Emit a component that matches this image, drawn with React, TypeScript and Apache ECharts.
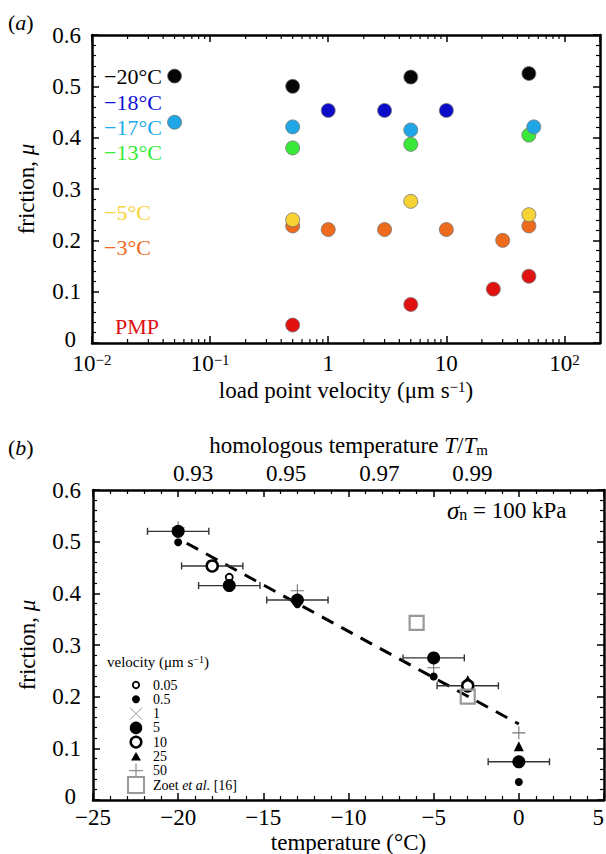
import React, { useEffect, useRef } from 'react';
import * as echarts from 'echarts';

const FONT = "'Liberation Serif', 'Times New Roman', Times, serif";

// ---------- Panel (a): friction vs load point velocity ----------
const velM20 = [0.05, 0.5, 5, 50];
const fricM20 = [0.52, 0.5, 0.518, 0.525];
const velM18 = [1, 3, 10];
const fricM18 = [0.453, 0.453, 0.453];
const velM17 = [0.05, 0.5, 5, 55];
const fricM17 = [0.43, 0.421, 0.415, 0.421];
const velM13 = [0.5, 5, 50];
const fricM13 = [0.38, 0.387, 0.405];
const velM5 = [0.5, 5, 50];
const fricM5 = [0.24, 0.276, 0.25];
const velM3 = [0.5, 1, 3, 10, 30, 50];
const fricM3 = [0.228, 0.221, 0.221, 0.221, 0.2, 0.228];
const velPMP = [0.5, 5, 25, 50];
const fricPMP = [0.035, 0.075, 0.105, 0.13];
const labelsA = ['−20°C', '−18°C', '−17°C', '−13°C', '−5°C', '−3°C', 'PMP'];
const logMinorTicks = [0.02, 0.03, 0.04, 0.05, 0.06, 0.07, 0.08, 0.09, 0.2, 0.3, 0.4, 0.5, 0.6, 0.7, 0.8, 0.9, 2, 3, 4, 5, 6, 7, 8, 9, 20, 30, 40, 50, 60, 70, 80, 90];

// ---------- Panel (b): friction vs temperature ----------
const tempV005 = [-20, -17];
const fricV005 = [0.519, 0.431];
const tempV05 = [-20, -17, -13, -5, -3, 0];
const fricV05 = [0.499, 0.421, 0.379, 0.239, 0.228, 0.035];
const tempV1 = [-18, -3];
const fricV1 = [0.455, 0.221];
const tempV5 = [-20, -17, -13, -5, 0];
const fricV5 = [0.52, 0.415, 0.387, 0.275, 0.074];
const tempV10 = [-18, -3];
const fricV10 = [0.453, 0.221];
const tempV25 = [-3, 0];
const fricV25 = [0.232, 0.104];
const tempV50 = [-20, -13, -5, -3, 0];
const fricV50 = [0.527, 0.405, 0.256, 0.228, 0.13];
const tempZoet = [-6, -3];
const fricZoet = [0.343, 0.2];
const errTemp = [-20, -18, -17, -13, -5, -3, 0];
const errFric = [0.52, 0.453, 0.415, 0.387, 0.275, 0.221, 0.074];
const errHalf = [1.8, 1.8, 1.8, 1.8, 1.8, 1.8, 1.8];
const fitTemp = [-19.5, 0];
const fitFric = [0.497, 0.147];
const homologousTicks = [0.93, 0.95, 0.97, 0.99];
const legendLabelsB = ['0.05', '0.5', '1', '5', '10', '25', '50', 'Zoet {i|et al.} [16]'];

const zip = (xs: number[], ys: number[]) => xs.map((x, i) => [x, ys[i]]);

const colorsA = ['#060606', '#0c0cc8', '#1ea6e6', '#3ae83a', '#f6d235', '#ee6b1e', '#e01212'];
const textColorsA = ['#000000', '#1010d8', '#22aaee', '#33ee33', '#f8d23a', '#f06820', '#e01010'];

const axisLine = { show: true, onZero: false, lineStyle: { color: '#000', width: 2.5 } };
const axisTick = { show: true, inside: true, length: 7, lineStyle: { color: '#000', width: 1.5 } };
const minorTick = { show: true, splitNumber: 5, length: 4, lineStyle: { color: '#000', width: 1.2 } };
const labelBase = { color: '#000', fontSize: 23, fontFamily: FONT };
const supRich = { sup: { fontSize: 15, fontFamily: FONT, color: '#000', verticalAlign: 'top' } };
const zeroRich = { z: { fontSize: 23, fontFamily: FONT, color: '#000', lineHeight: 18, padding: [0, 5, 8, 0] } };

const fmtMinus = (v: number) => (v < 0 ? '−' + Math.abs(v) : String(v));
const fmtY = (v: number) => (v === 0 ? '{z|0}' : v.toFixed(1));
const fmtLog = (v: number) => {
  const e = Math.round(Math.log10(v));
  if (e === 0) return '1';
  if (e === 1) return '10';
  return '10{sup|' + (e < 0 ? '−' : '') + Math.abs(e) + '}';
};

function buildOption() {
  const T0 = 273.15;
  const xMinB = -25;
  const xMaxB = 5;

  const scatterA = [
    { name: labelsA[6], v: velPMP, f: fricPMP, c: colorsA[6] },
    { name: labelsA[5], v: velM3, f: fricM3, c: colorsA[5] },
    { name: labelsA[4], v: velM5, f: fricM5, c: colorsA[4] },
    { name: labelsA[3], v: velM13, f: fricM13, c: colorsA[3] },
    { name: labelsA[2], v: velM17, f: fricM17, c: colorsA[2] },
    { name: labelsA[1], v: velM18, f: fricM18, c: colorsA[1] },
    { name: labelsA[0], v: velM20, f: fricM20, c: colorsA[0] },
  ].map((s) => ({
    type: 'scatter',
    name: s.name,
    xAxisIndex: 0,
    yAxisIndex: 0,
    data: zip(s.v, s.f),
    symbol: 'circle',
    symbolSize: 14,
    itemStyle: { color: s.c, borderColor: '#777', borderWidth: 0.8, opacity: 1 },
    z: 3,
  }));

  const plusPath =
    'path://M-0.6,-7L0.6,-7L0.6,-0.6L7,-0.6L7,0.6L0.6,0.6L0.6,7L-0.6,7L-0.6,0.6L-7,0.6L-7,-0.6L-0.6,-0.6Z';

  const bScatter = (name: string, t: number[], f: number[], extra: any) => ({
    type: 'scatter',
    name,
    xAxisIndex: 2,
    yAxisIndex: 2,
    data: zip(t, f),
    z: 4,
    ...extra,
    itemStyle: { opacity: 1, ...(extra.itemStyle || {}) },
  });

  const seriesB = [
    {
      type: 'line',
      name: 'fit',
      xAxisIndex: 2,
      yAxisIndex: 2,
      data: zip(fitTemp, fitFric),
      showSymbol: false,
      symbol: 'none',
      lineStyle: { color: '#000', width: 3, type: [13, 9] },
      z: 2,
    },
    {
      type: 'custom',
      name: 'error',
      xAxisIndex: 2,
      yAxisIndex: 2,
      data: errTemp.map((t, i) => [t, errFric[i], errHalf[i]]),
      encode: { x: 0, y: 1 },
      clip: false,
      z: 3,
      renderItem: (_p: any, api: any) => {
        const t = api.value(0);
        const f = api.value(1);
        const e = api.value(2);
        const a = api.coord([t - e, f]);
        const b = api.coord([t + e, f]);
        const st = { stroke: '#333', lineWidth: 1.4 };
        return {
          type: 'group',
          children: [
            { type: 'line', shape: { x1: a[0], y1: a[1], x2: b[0], y2: b[1] }, style: st },
            { type: 'line', shape: { x1: a[0], y1: a[1] - 3.5, x2: a[0], y2: a[1] + 3.5 }, style: st },
            { type: 'line', shape: { x1: b[0], y1: b[1] - 3.5, x2: b[0], y2: b[1] + 3.5 }, style: st },
          ],
        };
      },
    },
    bScatter('1', tempV1, fricV1, { symbol: plusPath, symbolRotate: 45, symbolSize: 12, itemStyle: { color: '#999' } }),
    bScatter('50', tempV50, fricV50, { symbol: plusPath, symbolSize: 13, itemStyle: { color: '#777' } }),
    bScatter('0.5', tempV05, fricV05, { symbol: 'circle', symbolSize: 8, itemStyle: { color: '#000' } }),
    bScatter('25', tempV25, fricV25, { symbol: 'triangle', symbolSize: 10, itemStyle: { color: '#000' } }),
    bScatter('10', tempV10, fricV10, {
      symbol: 'circle',
      symbolSize: 11,
      itemStyle: { color: '#fff', borderColor: '#000', borderWidth: 2.5 },
    }),
    bScatter('0.05', tempV005, fricV005, {
      symbol: 'circle',
      symbolSize: 7,
      itemStyle: { color: '#fff', borderColor: '#000', borderWidth: 1.8 },
    }),
    bScatter('5', tempV5, fricV5, { symbol: 'circle', symbolSize: 13, itemStyle: { color: '#000' } }),
    bScatter('Zoet et al. [16]', tempZoet, fricZoet, {
      symbol: 'rect',
      symbolSize: 14,
      itemStyle: { color: 'rgba(255,255,255,0)', borderColor: '#999', borderWidth: 2.2 },
    }),
  ];

  const minorLogSeries = {
    type: 'custom',
    name: 'minor',
    xAxisIndex: 0,
    yAxisIndex: 0,
    data: logMinorTicks.map((v) => [v, 0]),
    encode: { x: 0, y: 1 },
    clip: false,
    silent: true,
    z: 5,
    renderItem: (_p: any, api: any) => {
      const v = api.value(0);
      const b = api.coord([v, 0]);
      const t = api.coord([v, 0.6]);
      const st = { stroke: '#000', lineWidth: 1.2 };
      return {
        type: 'group',
        children: [
          { type: 'line', shape: { x1: b[0], y1: b[1], x2: b[0], y2: b[1] - 4 }, style: st },
          { type: 'line', shape: { x1: t[0], y1: t[1], x2: t[0], y2: t[1] + 4 }, style: st },
        ],
      };
    },
  };

  // graphic texts
  const labelYA = [76, 102, 127, 152, 212, 247, 326];
  const labelXA = [104, 104, 104, 104, 104, 104, 115];
  const graphic: any[] = labelsA.map((t, i) => ({
    type: 'text',
    x: labelXA[i],
    y: labelYA[i],
    z: 10,
    style: {
      text: t,
      fill: textColorsA[i],
      fontSize: 22,
      fontFamily: FONT,
      align: 'left',
      verticalAlign: 'middle',
    },
  }));

  const italicRich = (size: number) => ({
    i: { fontSize: size, fontFamily: FONT, fontStyle: 'italic', fill: '#000', color: '#000' },
  });

  graphic.push(
    {
      type: 'text',
      x: 8,
      y: 22,
      style: { text: '({i|a})', fontSize: 22, fontFamily: FONT, fill: '#000', verticalAlign: 'middle', rich: italicRich(22) },
    },
    {
      type: 'text',
      x: 8,
      y: 447,
      style: { text: '({i|b})', fontSize: 22, fontFamily: FONT, fill: '#000', verticalAlign: 'middle', rich: italicRich(22) },
    },
    {
      type: 'text',
      x: 447,
      y: 510,
      style: {
        text: '{s|σ}{sub|n} = 100 kPa',
        fontSize: 23,
        fontFamily: FONT,
        fill: '#000',
        verticalAlign: 'middle',
        rich: {
          s: { fontSize: 25, fontFamily: FONT, fontStyle: 'italic', fill: '#000' },
          sub: { fontSize: 16, fontFamily: FONT, fill: '#000', verticalAlign: 'bottom' },
        },
      },
    },
    {
      type: 'text',
      x: 107,
      y: 662,
      style: {
        text: 'velocity (μm s{sup|−1})',
        fontSize: 15,
        fontFamily: FONT,
        fill: '#000',
        verticalAlign: 'middle',
        rich: { sup: { fontSize: 10, fontFamily: FONT, fill: '#000', verticalAlign: 'top' } },
      },
    }
  );

  const legY = [685, 699.3, 713.6, 727.9, 742.1, 756.4, 770.7, 785];
  const mx = 136;
  legendLabelsB.forEach((t, i) => {
    graphic.push({
      type: 'text',
      x: 153,
      y: legY[i],
      style: {
        text: t,
        fontSize: 14,
        lineHeight: 13,
        fontFamily: FONT,
        fill: '#000',
        verticalAlign: 'middle',
        rich: { i: { fontSize: 14, lineHeight: 13, fontFamily: FONT, fontStyle: 'italic', fill: '#000' } },
      },
    });
  });
  graphic.push(
    { type: 'circle', shape: { cx: mx, cy: legY[0], r: 3.2 }, style: { fill: '#fff', stroke: '#000', lineWidth: 1.8 } },
    { type: 'circle', shape: { cx: mx, cy: legY[1], r: 4 }, style: { fill: '#000' } },
    { type: 'line', shape: { x1: mx - 6, y1: legY[2] - 6, x2: mx + 6, y2: legY[2] + 6 }, style: { stroke: '#999', lineWidth: 1 } },
    { type: 'line', shape: { x1: mx - 6, y1: legY[2] + 6, x2: mx + 6, y2: legY[2] - 6 }, style: { stroke: '#999', lineWidth: 1 } },
    { type: 'circle', shape: { cx: mx, cy: legY[3], r: 6.3 }, style: { fill: '#000' } },
    { type: 'circle', shape: { cx: mx, cy: legY[4], r: 5.3 }, style: { fill: '#fff', stroke: '#000', lineWidth: 2.5 } },
    {
      type: 'polygon',
      shape: { points: [[mx - 5, legY[5] + 4], [mx + 5, legY[5] + 4], [mx, legY[5] - 4.5]] },
      style: { fill: '#000' },
    },
    { type: 'line', shape: { x1: mx - 7, y1: legY[6], x2: mx + 7, y2: legY[6] }, style: { stroke: '#777', lineWidth: 1 } },
    { type: 'line', shape: { x1: mx, y1: legY[6] - 7, x2: mx, y2: legY[6] + 7 }, style: { stroke: '#777', lineWidth: 1 } },
    { type: 'rect', shape: { x: mx - 8, y: legY[7] - 8, width: 16, height: 16 }, style: { fill: 'none', stroke: '#999', lineWidth: 2 } }
  );

  return {
    animation: false,
    backgroundColor: '#fff',
    textStyle: { fontFamily: FONT },
    grid: [
      { left: 92, top: 35, width: 508, height: 308, containLabel: false, outerBoundsMode: 'none' },
      { left: 93, top: 490, width: 511, height: 310, containLabel: false, outerBoundsMode: 'none' },
    ],
    xAxis: [
      {
        gridIndex: 0,
        type: 'log',
        logBase: 10,
        min: 0.01,
        max: 200,
        position: 'bottom',
        axisLine,
        axisTick,
        splitLine: { show: false },
        axisLabel: { ...labelBase, margin: 9, showMaxLabel: false, formatter: fmtLog, rich: supRich },
        name: 'load point velocity (μm s{sup|−1})',
        nameLocation: 'middle',
        nameGap: 36,
        nameTextStyle: { ...labelBase, rich: supRich },
      },
      {
        gridIndex: 0,
        type: 'log',
        logBase: 10,
        min: 0.01,
        max: 200,
        position: 'top',
        axisLine,
        axisTick,
        splitLine: { show: false },
        axisLabel: { show: false },
      },
      {
        gridIndex: 1,
        type: 'value',
        min: xMinB,
        max: xMaxB,
        interval: 5,
        position: 'bottom',
        axisLine,
        axisTick,
        minorTick,
        splitLine: { show: false },
        axisLabel: { ...labelBase, margin: 7, lineHeight: 20, alignMaxLabel: 'right', formatter: fmtMinus },
        name: 'temperature (°C)',
        nameLocation: 'middle',
        nameGap: 31,
        nameTextStyle: { ...labelBase },
      },
      {
        gridIndex: 1,
        type: 'value',
        min: xMinB,
        max: xMaxB,
        interval: 5,
        position: 'top',
        axisLine,
        axisTick,
        minorTick,
        splitLine: { show: false },
        axisLabel: { show: false },
      },
      {
        gridIndex: 1,
        type: 'value',
        min: (xMinB + T0) / T0,
        max: (xMaxB + T0) / T0,
        position: 'top',
        axisLine: { show: false, onZero: false },
        axisTick: { show: false },
        splitLine: { show: false },
        axisLabel: {
          ...labelBase,
          margin: 5,
          customValues: homologousTicks,
          formatter: (v: number) => v.toFixed(2),
        },
        name: 'homologous temperature {i|T}/{i|T}{sub|m}',
        nameLocation: 'middle',
        nameGap: 33,
        nameTextStyle: {
          ...labelBase,
          rich: {
            i: { fontSize: 23, fontFamily: FONT, fontStyle: 'italic', color: '#000' },
            sub: { fontSize: 15, fontFamily: FONT, color: '#000', verticalAlign: 'bottom' },
          },
        },
      },
    ],
    yAxis: [
      {
        gridIndex: 0,
        type: 'value',
        min: 0,
        max: 0.6,
        interval: 0.1,
        position: 'left',
        axisLine,
        axisTick,
        minorTick,
        splitLine: { show: false },
        axisLabel: { ...labelBase, margin: 11, lineHeight: 18, formatter: fmtY, rich: zeroRich },
        name: 'friction, {i|μ}',
        nameLocation: 'middle',
        nameGap: 54,
        nameTextStyle: { ...labelBase, rich: { i: { fontSize: 23, fontFamily: FONT, fontStyle: 'italic', color: '#000' } } },
      },
      {
        gridIndex: 0,
        type: 'value',
        min: 0,
        max: 0.6,
        interval: 0.1,
        position: 'right',
        axisLine,
        axisTick,
        minorTick,
        splitLine: { show: false },
        axisLabel: { show: false },
      },
      {
        gridIndex: 1,
        type: 'value',
        min: 0,
        max: 0.6,
        interval: 0.1,
        position: 'left',
        axisLine,
        axisTick,
        minorTick,
        splitLine: { show: false },
        axisLabel: { ...labelBase, margin: 12, lineHeight: 18, formatter: fmtY, rich: zeroRich },
        name: 'friction, {i|μ}',
        nameLocation: 'middle',
        nameGap: 54,
        nameTextStyle: { ...labelBase, rich: { i: { fontSize: 23, fontFamily: FONT, fontStyle: 'italic', color: '#000' } } },
      },
      {
        gridIndex: 1,
        type: 'value',
        min: 0,
        max: 0.6,
        interval: 0.1,
        position: 'right',
        axisLine,
        axisTick,
        minorTick,
        splitLine: { show: false },
        axisLabel: { show: false },
      },
    ],
    series: [minorLogSeries, ...scatterA, ...seriesB],
    graphic,
  };
}

export default function App() {
  const ref = useRef<HTMLDivElement>(null);
  useEffect(() => {
    if (!ref.current) return;
    const chart = echarts.init(ref.current, null, { renderer: 'svg' });
    chart.setOption(buildOption() as any);
    return () => chart.dispose();
  }, []);
  return (
    <div
      ref={ref}
      style={{ position: 'absolute', left: 0, top: 0, width: 606, height: 854, background: '#fff' }}
    />
  );
}
